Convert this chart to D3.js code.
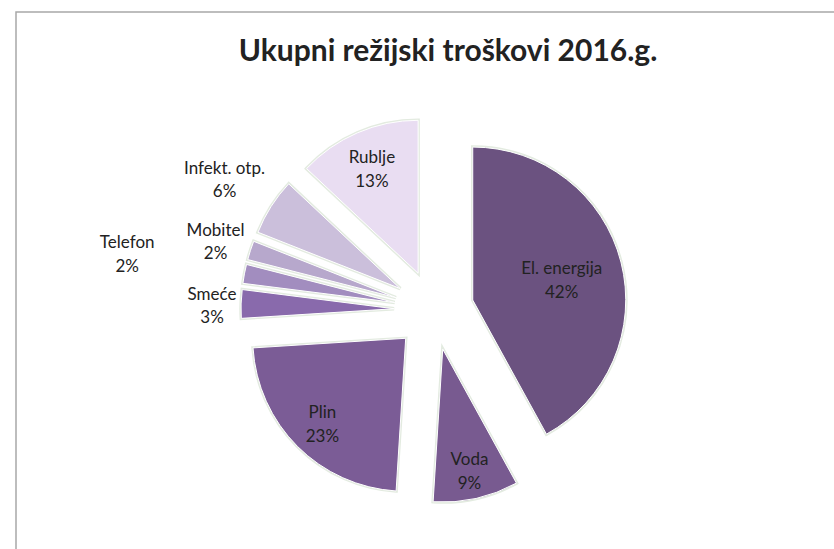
<!DOCTYPE html>
<html>
<head>
<meta charset="utf-8">
<script src="https://cdn.jsdelivr.net/npm/d3@7"></script>
<style>
  body { margin: 0; background: #fff; }
  text { font-family: "Lato", "Open Sans", sans-serif; fill: #222; }
</style>
</head>
<body>
<svg id="chart" width="834" height="549"></svg>
<script>
// slice order follows the original, clockwise from 12 o'clock
const categories = ["El. energija", "Voda", "Plin", "Smeće", "Telefon", "Mobitel", "Infekt. otp.", "Rublje"];
const shares = [42, 9, 23, 3, 2, 2, 6, 13];
const colours = ["#6b5280", "#785a90", "#7b5c96", "#896aac", "#a28dbf", "#b7a8cc", "#cbbfdb", "#e9ddf2"];

// label distance from slice apex, as a fraction of the radius
const labelFactor = [0.6, 0.8, 0.77, 1.19, 1.78, 1.24, 1.36, 0.76];

const svg = d3.select("#chart");
const cx = 434, cy = 310;      // pie centre
const radius = 153;
const explode = 40;             // every slice is pulled out by the same amount

// frame, only top and left edges show in the scan
svg.append("path")
    .attr("d", "M16,549 L16,12 L834,12")
    .attr("fill", "none")
    .attr("stroke", "#a8a8a8")
    .attr("stroke-width", 1.5);

svg.append("text")
    .attr("x", 448).attr("y", 61)
    .attr("text-anchor", "middle")
    .style("font-size", "30px")
    .style("font-weight", "bold")
    .text("Ukupni režijski troškovi 2016.g.");

const data = categories.map((c, i) => ({ name: c, value: shares[i], i }));

const pie = d3.pie().sort(null).value(d => d.value);
const arc = d3.arc().innerRadius(0).outerRadius(radius);
const arcs = pie(data);

// direction (screen coords) of a slice's bisector
function dir(a) {
    const m = (a.startAngle + a.endAngle) / 2;
    return [Math.sin(m), -Math.cos(m)];
}

const g = svg.append("g").attr("transform", `translate(${cx},${cy})`);

const slices = g.selectAll("g.slice")
    .data(arcs)
    .join("g")
    .attr("class", "slice")
    .attr("transform", d => {
        const [dx, dy] = dir(d);
        return `translate(${dx * explode},${dy * explode})`;
    });

// faint pale shadow edge under each slice
slices.append("path")
    .attr("d", arc)
    .attr("fill", "none")
    .attr("stroke", "#e3ebe0")
    .attr("stroke-width", 3.5);

slices.append("path")
    .attr("d", arc)
    .attr("fill", d => colours[d.data.i])
    .attr("stroke", "#ffffff")
    .attr("stroke-width", 1);

const labels = slices.append("text")
    .attr("text-anchor", "middle")
    .style("font-size", "17px")
    .attr("transform", d => {
        const [dx, dy] = dir(d);
        const r = radius * labelFactor[d.data.i];
        return `translate(${dx * r},${dy * r})`;
    });

labels.append("tspan")
    .attr("x", 0).attr("dy", "-0.2em")
    .text(d => d.data.name);
labels.append("tspan")
    .attr("x", 0).attr("dy", "1.4em")
    .text(d => d.data.value + "%");
</script>
</body>
</html>
